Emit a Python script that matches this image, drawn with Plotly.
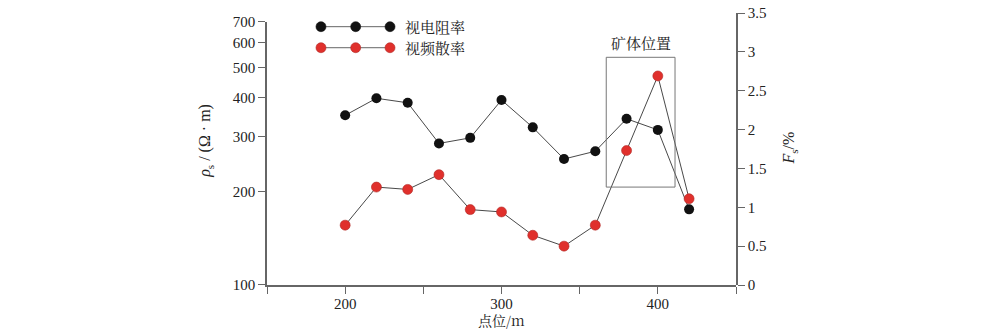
import plotly.graph_objects as go

# survey points along the profile (m)
points = [200, 220, 240, 260, 280, 300, 320, 340, 360, 380, 400, 420]
# apparent resistivity (Ω·m), log scale on the left axis
resistivity = [351, 398, 385, 285, 297, 393, 321, 254, 269, 342, 315, 175]
# apparent frequency dispersion (%), right axis
dispersion = [0.77, 1.26, 1.23, 1.42, 0.97, 0.94, 0.64, 0.50, 0.77, 1.73, 2.69, 1.11]

x_ticks = [150, 200, 250, 300, 350, 400, 450]
x_ticktext = ["", "200", "", "300", "", "400", ""]
left_ticks = [100, 200, 300, 400, 500, 600, 700]
right_ticks = [0, 0.5, 1, 1.5, 2, 2.5, 3, 3.5]
right_ticktext = ["0", "0.5", "1", "1.5", "2", "2.5", "3", "3.5"]

# ore body extent (x in m, y in %)
ore_x = [367, 411]
ore_y = [1.26, 2.93]

series_names = ["视电阻率", "视频散率"]
colors = ["#111111", "#e0302c"]

serif = "Liberation Serif, Noto Sans CJK SC, serif"
cjk = "Noto Serif CJK SC, Noto Sans CJK SC, serif"
axis_color = "#666666"

fig = go.Figure()
fig.add_trace(go.Scatter(
    x=points, y=resistivity, mode="lines+markers", name=series_names[0],
    line=dict(color="#333333", width=0.9),
    marker=dict(size=10, color=colors[0], line=dict(width=0)),
    yaxis="y", showlegend=False))
fig.add_trace(go.Scatter(
    x=points, y=dispersion, mode="lines+markers", name=series_names[1],
    line=dict(color="#333333", width=0.9),
    marker=dict(size=10, color=colors[1], line=dict(width=0.6, color="#b02a26")),
    yaxis="y2", showlegend=False))

shapes = [dict(type="rect", xref="x", yref="y2", x0=ore_x[0], x1=ore_x[1],
               y0=ore_y[0], y1=ore_y[1], line=dict(color="#777777", width=1))]

# legend drawn as a line with three dots per series
legend_rows = [0.9497, 0.8724]
legend_dots = [0.1151, 0.1891, 0.2623]
annotations = []
for row, color, name, edge in zip(legend_rows, colors, series_names,
                                  ["#111111", "#b02a26"]):
    shapes.append(dict(type="line", xref="paper", yref="paper",
                       x0=legend_dots[0], x1=legend_dots[-1], y0=row, y1=row,
                       line=dict(color="#555555", width=0.9)))
    for dx in legend_dots:
        shapes.append(dict(type="circle", xref="paper", yref="paper",
                           xsizemode="pixel", ysizemode="pixel",
                           xanchor=dx, yanchor=row, x0=-5, x1=5, y0=-5, y1=5,
                           fillcolor=color, line=dict(color=edge, width=0.6)))
    annotations.append(dict(xref="paper", yref="paper", x=0.29, y=row,
                            xanchor="left", yanchor="middle", text=name,
                            showarrow=False, font=dict(family=cjk, size=15, color="#222")))

annotations.append(dict(xref="x", yref="y2", x=(ore_x[0] + ore_x[1]) / 2, y=ore_y[1],
                        yanchor="bottom", yshift=2, text="矿体位置", showarrow=False,
                        font=dict(family=cjk, size=15, color="#222")))
annotations.append(dict(xref="paper", yref="paper", x=-0.13, y=0.53,
                        xanchor="center", yanchor="middle", textangle=-90,
                        text="<i>ρ</i><sub>s</sub> / (Ω · m)", showarrow=False,
                        font=dict(family=serif, size=16, color="#222")))
annotations.append(dict(xref="paper", yref="paper", x=1.115, y=0.505,
                        xanchor="center", yanchor="middle", textangle=-90,
                        text="<i>F</i><sub>s</sub>/%", showarrow=False,
                        font=dict(family=serif, size=16, color="#222")))
annotations.append(dict(xref="paper", yref="paper", x=0.5, y=-0.13,
                        xanchor="center", yanchor="middle", text="点位/m", showarrow=False,
                        font=dict(family=cjk, size=14, color="#222")))

fig.update_layout(
    width=1000, height=331,
    margin=dict(l=267, r=264, t=13, b=46, autoexpand=False),
    paper_bgcolor="white", plot_bgcolor="rgba(0,0,0,0)",
    font=dict(family=serif, size=15, color="#222"),
    xaxis=dict(range=[150, 450], tickvals=x_ticks, ticktext=x_ticktext,
               ticks="outside", ticklen=7, tickcolor=axis_color,
               ticklabelstandoff=-3,
               showline=True, linecolor=axis_color, linewidth=1.5,
               showgrid=False, zeroline=False, anchor="y", automargin=False,
               tickfont=dict(family=serif, size=15)),
    yaxis=dict(type="log", range=[2, 2.8451], domain=[0, 0.967],
               tickvals=left_ticks, ticktext=[str(v) for v in left_ticks],
               ticks="outside", ticklen=7, tickcolor=axis_color,
               showline=True, linecolor=axis_color, linewidth=1.5,
               showgrid=False, zeroline=False, anchor="x", automargin=False,
               tickfont=dict(family=serif, size=15)),
    yaxis2=dict(range=[0, 3.5], domain=[0, 1], side="right", anchor="x",
                tickvals=right_ticks, ticktext=right_ticktext,
                ticks="outside", ticklen=7, tickcolor=axis_color,
                showline=True, linecolor=axis_color, linewidth=1.5,
                showgrid=False, zeroline=False, automargin=False,
                tickfont=dict(family=serif, size=15)),
    shapes=shapes, annotations=annotations,
)

fig.write_html("out.html")
